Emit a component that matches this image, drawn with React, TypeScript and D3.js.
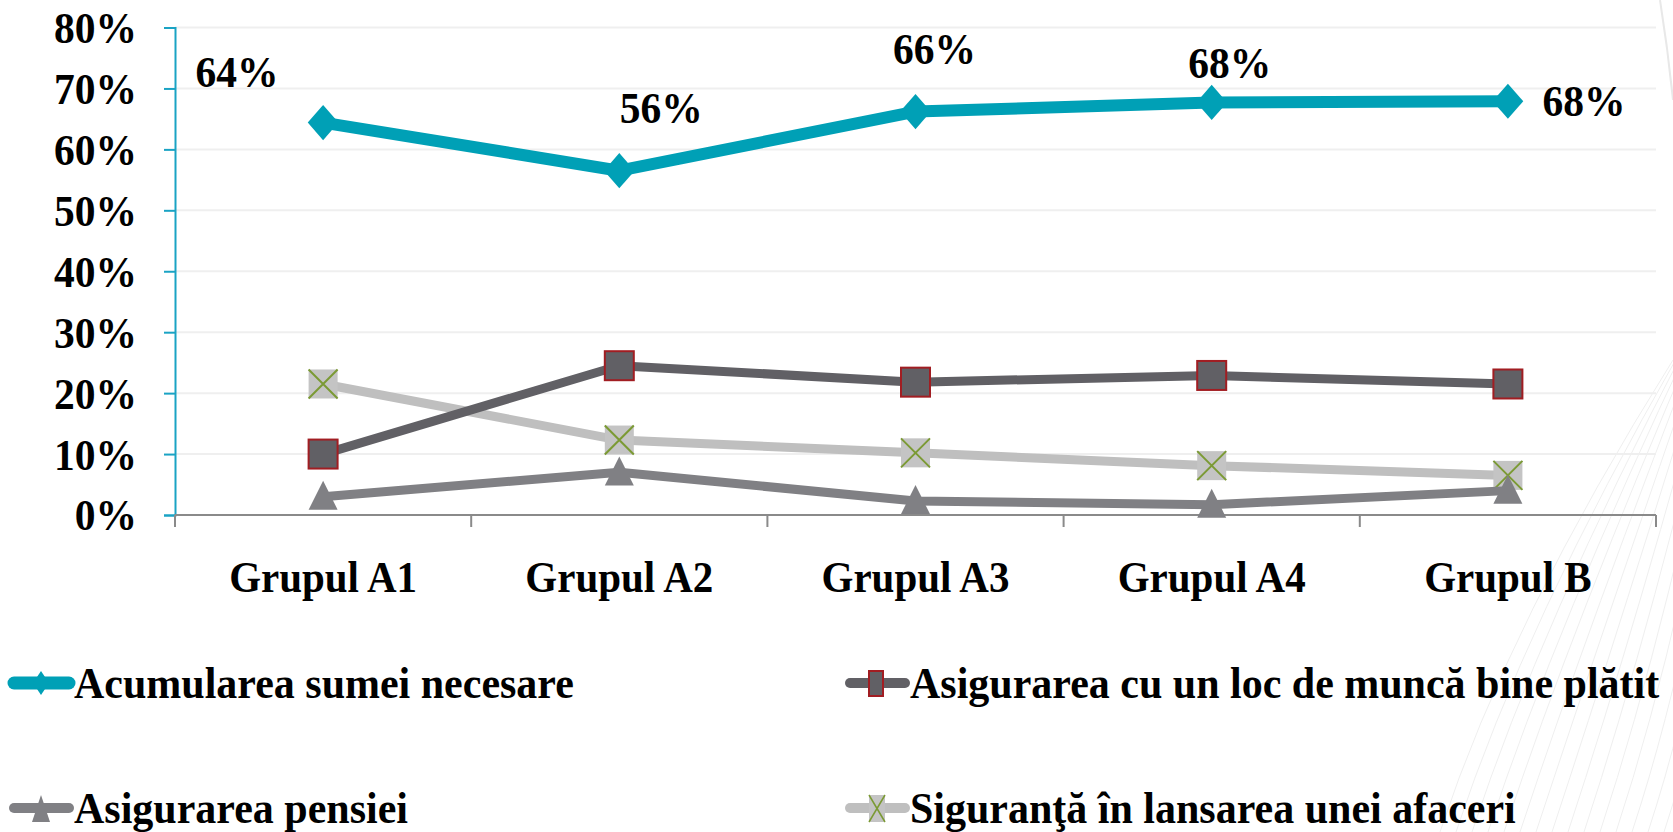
import * as d3 from 'd3';
import { useEffect, useRef } from 'react';

const categories = ['Grupul A1', 'Grupul A2', 'Grupul A3', 'Grupul A4', 'Grupul B'];

const acumulareaSumei = [64.4, 56.5, 66.2, 67.7, 67.9];
const locDeMunca = [10.0, 24.5, 21.8, 22.9, 21.5];
const pensiei = [3.0, 7.0, 2.3, 1.7, 4.0];
const sigurantaAfaceri = [21.5, 12.3, 10.2, 8.1, 6.5];

const acumulareaLabels = ['64%', '56%', '66%', '68%', '68%'];
const yTicks = [0, 10, 20, 30, 40, 50, 60, 70, 80];

// where excel put the data labels, relative to the point
const labelOffsets = [[-86, -36], [42, -48], [19, -48], [18, -24], [76, 15]];

const W = 1673;
const H = 832;
const FONT = 'Liberation Serif';
const STRETCH = 1.06; // text in the original looks a bit tall

const series = [
    { name: 'Acumularea sumei necesare', values: acumulareaSumei, color: '#00a0b6', width: 12, marker: 'diamond' },
    { name: 'Asigurarea cu un loc de muncă bine plătit', values: locDeMunca, color: '#616065', width: 9, marker: 'square' },
    { name: 'Asigurarea pensiei', values: pensiei, color: '#808084', width: 9, marker: 'triangle' },
    { name: 'Siguranţă în lansarea unei afaceri', values: sigurantaAfaceri, color: '#bfbfbf', width: 9, marker: 'x' },
];

function textStyle(sel, size) {
    sel.style('font-family', FONT)
        .style('font-size', size + 'px')
        .style('font-weight', 'bold')
        .attr('fill', '#000');
}

function drawMarker(g, type, x, y, s) {
    if (type === 'diamond') {
        g.append('path')
            .attr('d', `M${x},${y - s * 0.55} L${x + s * 0.48},${y} L${x},${y + s * 0.55} L${x - s * 0.48},${y} Z`)
            .attr('fill', '#00a0b6');
    } else if (type === 'square') {
        g.append('rect')
            .attr('x', x - s / 2).attr('y', y - s / 2)
            .attr('width', s).attr('height', s)
            .attr('fill', '#616065')
            .attr('stroke', '#a11d22').attr('stroke-width', 2);
    } else if (type === 'triangle') {
        g.append('path')
            .attr('d', `M${x},${y - s * 0.55} L${x + s / 2},${y + s * 0.45} L${x - s / 2},${y + s * 0.45} Z`)
            .attr('fill', '#808084');
    } else {
        g.append('rect')
            .attr('x', x - s / 2).attr('y', y - s / 2)
            .attr('width', s).attr('height', s)
            .attr('fill', '#c4c4c4');
        g.append('path')
            .attr('d', `M${x - s / 2},${y - s / 2} L${x + s / 2},${y + s / 2} M${x + s / 2},${y - s / 2} L${x - s / 2},${y + s / 2}`)
            .attr('stroke', '#7b9a34').attr('stroke-width', 2);
    }
}

export default function App() {
    const ref = useRef(null);

    useEffect(() => {
        const svg = d3.select(ref.current);
        svg.selectAll('*').remove();

        // faint decorative swoosh in the background, right side
        const deco = svg.append('g').attr('fill', 'none').attr('stroke', '#efefef').attr('stroke-width', 1);
        d3.range(16).forEach(i => {
            const x0 = 1440 + i * 16;
            deco.append('path')
                .attr('d', `M${x0},${H} Q${x0 + 70},${620} ${1673 + i * 6},${360 - i * 6}`);
        });
        deco.append('path')
            .attr('d', `M1660,0 Q1668,50 1673,100`)
            .attr('stroke', '#e8e8e8').attr('stroke-width', 2);

        const left = 175, right = 1656, top = 27.5, bottom = 515;

        const x = d3.scaleBand().domain(categories).range([left, right]);
        const y = d3.scaleLinear().domain([0, 80]).range([bottom, top]);
        const cx = c => x(c) + x.bandwidth() / 2;

        // gridlines
        svg.append('g')
            .selectAll('line')
            .data(yTicks.filter(t => t > 0))
            .join('line')
            .attr('x1', left).attr('x2', right)
            .attr('y1', d => y(d)).attr('y2', d => y(d))
            .attr('stroke', '#efefef').attr('stroke-width', 2);

        // y axis
        const yAxis = svg.append('g')
            .attr('transform', `translate(${left},0)`)
            .call(d3.axisLeft(y).tickValues(yTicks).tickSize(11).tickPadding(27).tickFormat(d => `${d}%`));
        yAxis.attr('font-family', null).attr('font-size', null);
        yAxis.select('.domain').attr('stroke', '#1aa3c4').attr('stroke-width', 2);
        yAxis.selectAll('.tick line').attr('stroke', '#1aa3c4').attr('stroke-width', 2);
        yAxis.selectAll('text')
            .call(textStyle, 41.5)
            .attr('dy', '0.34em')
            .attr('transform', `scale(1,${STRETCH})`);

        // x axis
        const xAxis = svg.append('g').attr('transform', `translate(0,${bottom})`);
        xAxis.append('line')
            .attr('x1', left).attr('x2', right)
            .attr('stroke', '#8a8a8a').attr('stroke-width', 2);
        const bounds = categories.map(c => x(c)).concat([right]);
        xAxis.selectAll('line.tk')
            .data(bounds)
            .join('line')
            .attr('class', 'tk')
            .attr('x1', d => d).attr('x2', d => d)
            .attr('y1', 0).attr('y2', 12)
            .attr('stroke', '#8a8a8a').attr('stroke-width', 2);
        xAxis.selectAll('text')
            .data(categories)
            .join('text')
            .attr('transform', d => `translate(${cx(d)},77) scale(1,${STRETCH})`)
            .attr('text-anchor', 'middle')
            .call(textStyle, 41)
            .text(d => d);

        // lines + markers, last series drawn first so the teal sits on top
        const line = d3.line().x((d, i) => cx(categories[i])).y(d => y(d));
        [...series].reverse().forEach(s => {
            const g = svg.append('g');
            g.append('path')
                .datum(s.values)
                .attr('d', line)
                .attr('fill', 'none')
                .attr('stroke', s.color)
                .attr('stroke-width', s.width)
                .attr('stroke-linejoin', 'round');
            s.values.forEach((v, i) => {
                drawMarker(g, s.marker, cx(categories[i]), y(v), s.marker === 'diamond' ? 32 : 29);
            });
        });

        // data labels for the teal series
        svg.append('g')
            .selectAll('text')
            .data(acumulareaSumei)
            .join('text')
            .attr('transform', (d, i) =>
                `translate(${cx(categories[i]) + labelOffsets[i][0]},${y(d) + labelOffsets[i][1]}) scale(1,${STRETCH})`)
            .attr('text-anchor', 'middle')
            .call(textStyle, 41.5)
            .text((d, i) => acumulareaLabels[i]);

        // legend, 2 x 2
        const legendPos = [[9, 683], [845, 683], [9, 808], [845, 808]];
        series.forEach((s, i) => {
            const [lx, ly] = legendPos[i];
            const g = svg.append('g');
            g.append('line')
                .attr('x1', lx + 5).attr('x2', lx + 60)
                .attr('y1', ly).attr('y2', ly)
                .attr('stroke', s.color)
                .attr('stroke-width', s.marker === 'diamond' ? 13 : 10)
                .attr('stroke-linecap', 'round');
            if (s.marker === 'diamond') {
                g.append('path')
                    .attr('d', `M${lx + 32},${ly - 12} L${lx + 40},${ly} L${lx + 32},${ly + 12} L${lx + 24},${ly} Z`)
                    .attr('fill', s.color);
            } else if (s.marker === 'square') {
                g.append('rect')
                    .attr('x', lx + 24).attr('y', ly - 12).attr('width', 14).attr('height', 25)
                    .attr('fill', '#616065').attr('stroke', '#a11d22').attr('stroke-width', 2);
            } else if (s.marker === 'triangle') {
                g.append('path')
                    .attr('d', `M${lx + 32},${ly - 13} L${lx + 41},${ly + 14} L${lx + 23},${ly + 14} Z`)
                    .attr('fill', s.color);
            } else {
                g.append('rect')
                    .attr('x', lx + 24).attr('y', ly - 13).attr('width', 16).attr('height', 27)
                    .attr('fill', '#c4c4c4');
                g.append('path')
                    .attr('d', `M${lx + 24},${ly - 13} L${lx + 40},${ly + 14} M${lx + 40},${ly - 13} L${lx + 24},${ly + 14}`)
                    .attr('stroke', '#7b9a34').attr('stroke-width', 1.5);
            }
            g.append('text')
                .attr('transform', `translate(${lx + 65},${ly + 15}) scale(1,${STRETCH})`)
                .call(textStyle, 42)
                .text(s.name);
        });
    }, []);

    return (
        <svg ref={ref} width={W} height={H} style={{ position: 'absolute', left: 0, top: 0, background: '#fff' }} />
    );
}
